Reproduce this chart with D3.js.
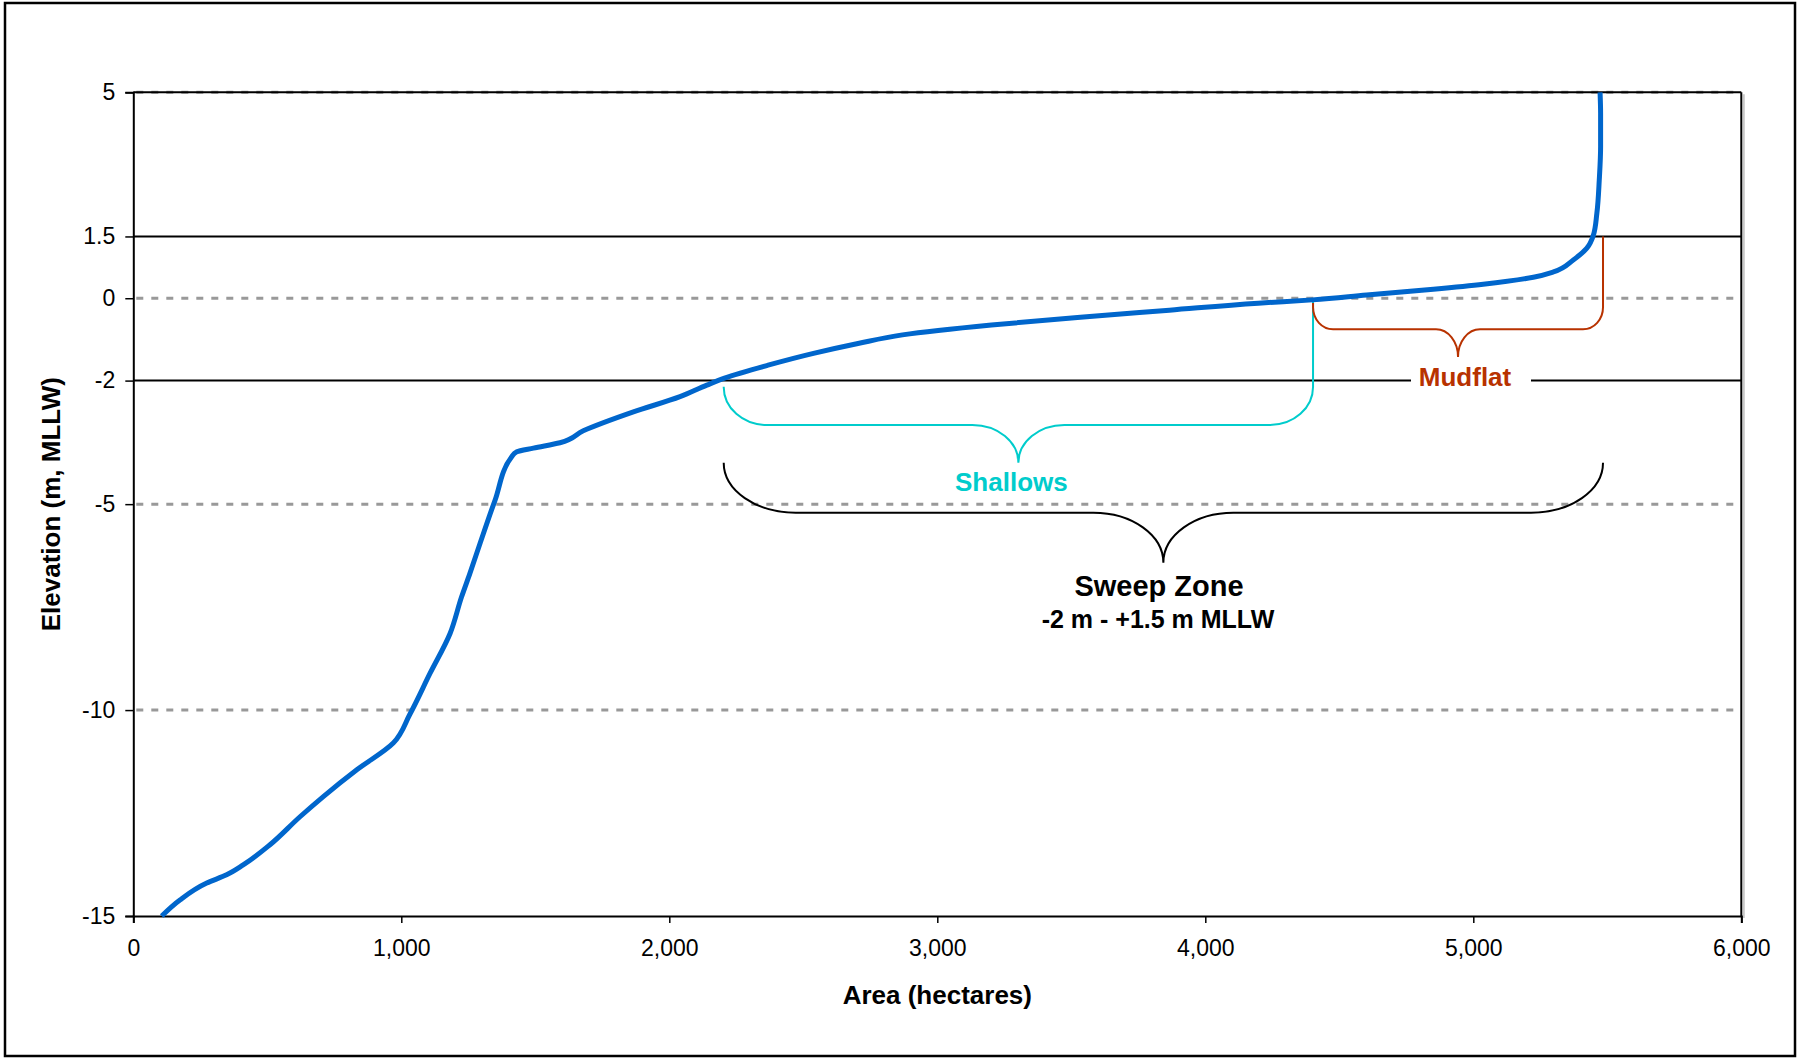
<!DOCTYPE html>
<html>
<head>
<meta charset="utf-8">
<script src="https://cdn.jsdelivr.net/npm/d3@7"></script>
<style>
  html, body { margin: 0; padding: 0; background: #fff; }
  svg { display: block; font-family: Arial, "Liberation Sans", sans-serif; }
</style>
</head>
<body>
<svg id="chart" width="1797" height="1058"></svg>
<script>
// Hypsometric curve: cumulative area (hectares) below each elevation (m, MLLW)
const areaHa = [106, 174, 274, 348, 410, 510, 622, 709, 834, 970, 1032, 1107, 1182, 1225, 1256, 1294, 1350,
  1412, 1431, 1493, 1592, 1679, 1866, 2040, 2140, 2206, 2372, 2538, 2704, 2870, 3202, 3534, 3866, 4198, 4400,
  4602, 4851, 5037, 5224, 5299, 5373, 5423, 5448, 5461, 5470, 5475, 5475, 5473];
const elevation = [-15, -14.61, -14.2, -14.0, -13.76, -13.27, -12.59, -12.1, -11.45, -10.8, -10.1, -9.11, -8.14,
  -7.25, -6.68, -5.95, -4.9, -3.85, -3.73, -3.64, -3.51, -3.22, -2.76, -2.39, -2.11, -1.94, -1.62, -1.34, -1.1,
  -0.89, -0.65, -0.46, -0.29, -0.12, -0.04, 0.08, 0.22, 0.34, 0.51, 0.64, 0.93, 1.21, 1.53, 2.06, 2.87, 3.68, 4.49, 5];

const yTickValues = [5, 1.5, 0, -2, -5, -10, -15];
const xTickValues = [0, 1000, 2000, 3000, 4000, 5000, 6000];
const solidLevels = [1.5, -2];          // sweep-zone limits
const dashedLevels = [5, 0, -5, -10];   // reference levels

// Zones along the area axis
const shallowsSpan = [2203, 4402];
const mudflatSpan = [4402, 5484];
const sweepSpan = [2203, 5484];

const svg = d3.select("#chart");
const x = d3.scaleLinear().domain([0, 6000]).range([133.3, 1741.3]);
const y = d3.scaleLinear().domain([-15, 5]).range([916, 92.3]);

// Outer chart border
svg.append("rect").attr("x", 5).attr("y", 3).attr("width", 1790).attr("height", 1053)
  .attr("fill", "none").attr("stroke", "#000").attr("stroke-width", 2.5);

// Plot area shadow
svg.append("line").attr("x1", x(6000) + 2.5).attr("x2", x(6000) + 2.5)
  .attr("y1", y(5) + 2).attr("y2", y(-15) + 2).attr("stroke", "#c8c8c8").attr("stroke-width", 2);

// Dashed reference levels
svg.append("g").selectAll("line").data(dashedLevels).join("line")
  .attr("x1", x(0) + 3).attr("x2", x(6000) - 8)
  .attr("y1", d => y(d)).attr("y2", d => y(d))
  .attr("stroke", "#999").attr("stroke-width", 3).attr("stroke-dasharray", "7,8");

// Solid zone limits
svg.append("g").selectAll("line").data(solidLevels).join("line")
  .attr("x1", x(0)).attr("x2", x(6000))
  .attr("y1", d => y(d)).attr("y2", d => y(d))
  .attr("stroke", "#000").attr("stroke-width", 2);

// Plot frame top and right
svg.append("line").attr("x1", x(0)).attr("x2", x(6000)).attr("y1", y(5)).attr("y2", y(5))
  .attr("stroke", "#000").attr("stroke-width", 2);
svg.append("line").attr("x1", x(6000)).attr("x2", x(6000)).attr("y1", y(5)).attr("y2", y(-15))
  .attr("stroke", "#000").attr("stroke-width", 2);

// Axes
const yAxis = svg.append("g").attr("transform", `translate(${x(0)},0)`)
  .call(d3.axisLeft(y).tickValues(yTickValues).tickSize(8).tickPadding(10).tickFormat(d => String(d)));
const xAxis = svg.append("g").attr("transform", `translate(0,${y(-15)})`)
  .call(d3.axisBottom(x).tickValues(xTickValues).tickSize(7).tickPadding(17).tickFormat(d3.format(",")));
[yAxis, xAxis].forEach(g => {
  g.select(".domain").attr("stroke", "#000").attr("stroke-width", 2);
  g.selectAll(".tick line").attr("stroke", "#000").attr("stroke-width", 1.5);
  g.selectAll(".tick text").attr("fill", "#000").style("font-size", "23px")
    .style("font-family", 'Arial, "Liberation Sans", sans-serif');
});

// Axis titles
svg.append("text").attr("x", (x(0) + x(6000)) / 2).attr("y", 1004)
  .attr("text-anchor", "middle").style("font-size", "26px").style("font-weight", "bold")
  .text("Area (hectares)");
svg.append("text").attr("transform", `translate(60,${(y(5) + y(-15)) / 2}) rotate(-90)`)
  .attr("text-anchor", "middle").style("font-size", "26px").style("font-weight", "bold")
  .text("Elevation (m, MLLW)");

// Curly brace: ends at x0/x1, bar at yMid, tip at yTip
function brace(x0, x1, yTop0, yTop1, yMid, rx, ry, yTip, rx2) {
  const xc = (x0 + x1) / 2, ry2 = yTip - yMid;
  return `M${x0},${yTop0} L${x0},${yMid - ry} A${rx},${ry} 0 0 0 ${x0 + rx},${yMid}` +
    ` L${xc - rx2},${yMid} A${rx2},${ry2} 0 0 1 ${xc},${yTip}` +
    ` A${rx2},${ry2} 0 0 1 ${xc + rx2},${yMid} L${x1 - rx},${yMid}` +
    ` A${rx},${ry} 0 0 0 ${x1},${yMid - ry} L${x1},${yTop1}`;
}

// Shallows brace
svg.append("path")
  .attr("d", brace(x(shallowsSpan[0]), x(shallowsSpan[1]), 386.7, 301, 425, 43, 38, 462.7, 46))
  .attr("fill", "none").attr("stroke", "#00cccc").attr("stroke-width", 2);
// Mudflat brace
svg.append("path")
  .attr("d", brace(x(mudflatSpan[0]), x(mudflatSpan[1]), 303, y(1.5), 329.3, 20, 22, 357, 22))
  .attr("fill", "none").attr("stroke", "#b83200").attr("stroke-width", 2);
// Sweep zone brace
svg.append("path")
  .attr("d", brace(x(sweepSpan[0]), x(sweepSpan[1]), 462.7, 462.7, 512.7, 72, 50, 562.7, 70))
  .attr("fill", "none").attr("stroke", "#000").attr("stroke-width", 2);

// Hypsometric curve
const pts = areaHa.map((a, i) => [a, elevation[i]]);
svg.append("path").datum(pts)
  .attr("d", d3.line().x(d => x(d[0])).y(d => y(d[1])).curve(d3.curveMonotoneY))
  .attr("fill", "none").attr("stroke", "#0066cc").attr("stroke-width", 5)
  .attr("stroke-linejoin", "round").attr("stroke-linecap", "butt");

// Zone labels
const mud = svg.append("g");
mud.append("rect").attr("x", 1411).attr("y", 366).attr("width", 120).attr("height", 24).attr("fill", "#fff");
mud.append("text").attr("x", (x(mudflatSpan[0]) + x(mudflatSpan[1])) / 2 + 7).attr("y", 386)
  .attr("text-anchor", "middle").attr("fill", "#b83200")
  .style("font-size", "26px").style("font-weight", "bold").text("Mudflat");

svg.append("text").attr("x", (x(shallowsSpan[0]) + x(shallowsSpan[1])) / 2 - 7).attr("y", 491)
  .attr("text-anchor", "middle").attr("fill", "#00cccc")
  .style("font-size", "26px").style("font-weight", "bold").text("Shallows");

svg.append("text").attr("x", 1159).attr("y", 596)
  .attr("text-anchor", "middle").attr("fill", "#000")
  .style("font-size", "29px").style("font-weight", "bold").text("Sweep Zone");
svg.append("text").attr("x", 1158).attr("y", 628)
  .attr("text-anchor", "middle").attr("fill", "#000")
  .style("font-size", "25px").style("font-weight", "bold").text("-2 m - +1.5 m MLLW");
</script>
</body>
</html>
